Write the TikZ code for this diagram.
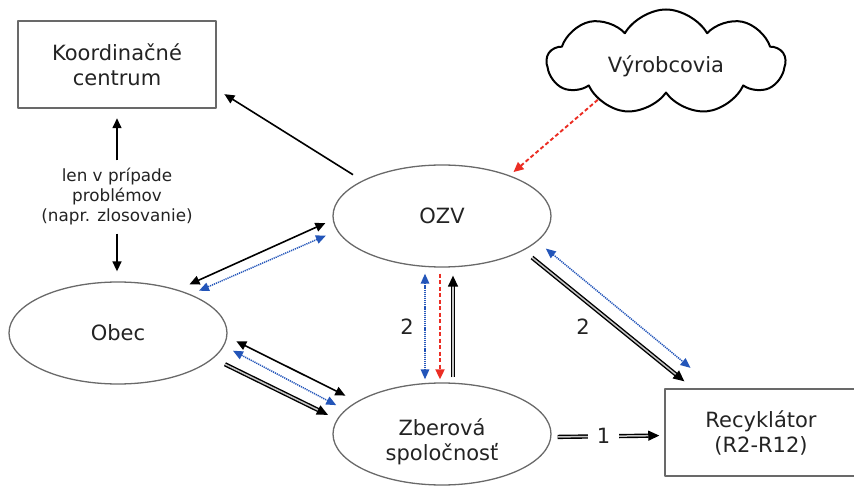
\documentclass[tikz,border=0pt]{standalone}
\usepackage{fontspec}
\setmainfont{DejaVu Sans}
\usetikzlibrary{arrows.meta,shapes.geometric,shapes.symbols}
\definecolor{modra}{RGB}{35,85,185}
\definecolor{cervena}{RGB}{235,45,35}
\definecolor{okraj}{RGB}{105,105,105}
\definecolor{pismo}{RGB}{35,35,35}
\begin{document}
\begin{tikzpicture}[x=1pt,y=-1pt,line join=round,font=\fontsize{21}{25}\selectfont,text=pismo,
	elipsa/.style={ellipse,draw=okraj,line width=1.3pt,minimum width=218pt,minimum height=102pt,inner sep=0pt,align=center},
	obdlznik/.style={rectangle,draw=okraj,line width=1.5pt,minimum height=87pt,inner sep=0pt,align=center},
	tenka/.style={black,line width=1.6pt,>={Triangle[length=10pt,width=9pt]}},
	modrasip/.style={modra,line width=1.5pt,dash pattern=on 1.2pt off 0.9pt,>={Triangle[length=10pt,width=8.5pt]}},
	cervsip/.style={cervena,line width=1.9pt,dash pattern=on 4pt off 2.5pt,>={Triangle[length=10pt,width=9pt]}},
	dvojita/.style={draw=black,double=gray!45,double distance=1.5pt,line width=1.4pt,>={Triangle[length=11pt,width=10pt]}}]
	% Rám
	\useasboundingbox (0,0) rectangle (854,486);
	% Uzly
	\node[obdlznik,minimum width=198pt] (kc) at (117,64.5) {Koordinačné\\centrum};
	\node[cloud,cloud puffs=9,cloud puff arc=120,aspect=2.27,draw=black,line width=2pt,minimum width=238pt,minimum height=105pt,inner sep=0pt] (vyr) at (666,62) {\rule{0pt}{26pt}Výrobcovia};
	\node[elipsa] (ozv) at (442,216) {OZV};
	\node[elipsa] (obec) at (118,333) {Obec};
	\node[elipsa] (zs) at (442,434) {\rule{0pt}{32pt}Zberová\\spoločnosť};
	\node[obdlznik,minimum width=192pt] (rec) at (761,432.5) {Recyklátor\\(R2-R12)};
	\node[font=\fontsize{16.8}{20}\selectfont,align=center,inner xsep=0pt,inner ysep=8pt] (lbl) at (117,197) {len v prípade\\problémov\\(napr. zlosovanie)};
	\node (dva1) at (407,327) {2};
	\node (dva2) at (583,327) {2};
	% Koordinačné centrum
	\draw[tenka,->,shorten <=11pt,shorten >=9pt] (ozv.156) -- (kc.-14);
	\draw[tenka,->,shorten >=9.5pt] (lbl.north) -- (kc.south);
	\draw[tenka,->,shorten >=10pt] (lbl.south) -- (lbl.south |- obec.north);
	% Výrobcovia
	\draw[cervsip,->,shorten >=5pt] (vyr.209) -- (ozv.31);
	% OZV a obec
	\draw[tenka,<->,shorten <=8pt,shorten >=13pt] (ozv.182) -- (obec.36);
	\draw[modrasip,<->,shorten <=12pt,shorten >=9pt] (ozv.188) -- (obec.28);
	% Obec a zberová spoločnosť
	\draw[tenka,<->,shorten <=10pt,shorten >=13pt] (obec.-2) -- (zs.159);
	\draw[modrasip,<->,shorten <=10pt,shorten >=10pt] (obec.-7) -- (zs.166);
	\draw[dvojita,->,shorten <=13pt,shorten >=10pt] (obec.-15) -- (zs.172);
	% OZV a zberová spoločnosť
	\draw[modrasip,<->,shorten <=6pt,shorten >=3pt] ([xshift=-17pt]ozv.south) -- ([xshift=-17pt]zs.north);
	\draw[cervsip,->,shorten <=6pt,shorten >=3pt] ([xshift=-2pt]ozv.south) -- ([xshift=-2pt]zs.north);
	\draw[dvojita,->,shorten <=5pt,shorten >=8pt] ([xshift=11pt]zs.north) -- ([xshift=11pt]ozv.south);
	% Recyklátor
	\draw[dvojita,->,shorten <=11pt,shorten >=11pt] (ozv.-23) -- (rec.147.6);
	\draw[modrasip,<->,shorten <=11pt,shorten >=32pt] (ozv.-15) -- (rec.136.5);
	\draw[dvojita,->,shorten <=6pt,shorten >=5pt] ([yshift=-3pt]zs.east) -- node[fill=white,inner xsep=9pt,inner ysep=2pt,pos=0.46] (jedna) {1} ([yshift=-3pt]rec.west);
\end{tikzpicture}
\end{document}
